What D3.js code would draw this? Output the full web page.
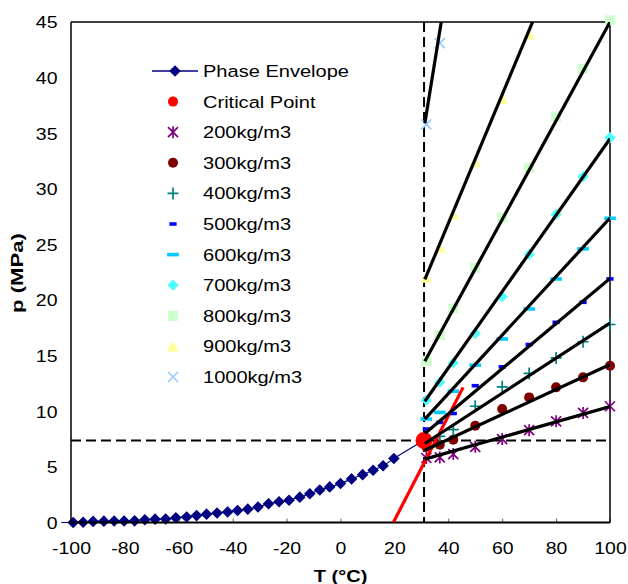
<!DOCTYPE html>
<html>
<head>
<meta charset="utf-8">
<script src="https://cdn.jsdelivr.net/npm/d3@7"></script>
<style>
  html, body { margin: 0; padding: 0; background: #fff; }
  svg { display: block; }
  text { font-family: "Liberation Sans", Arial, sans-serif; fill: #000; }
</style>
</head>
<body>
<div id="chart"></div>
<script>
// ---------------- DATA ----------------
const xTicks = [-100, -80, -60, -40, -20, 0, 20, 40, 60, 80, 100];
const yTicks = [0, 5, 10, 15, 20, 25, 30, 35, 40, 45];

// Phase envelope (saturation / sublimation curve)
const envT = [-103.6, -99.2, -95.5, -91.8, -87.8, -84.0, -80.3, -76.4, -72.6, -68.8, -64.9, -61.1, -57.1, -53.4, -49.7, -45.8, -41.9, -38.2, -34.4, -30.6, -26.7, -22.8, -19.1, -15.1, -11.4, -7.7, -4.0, 0.0, 4.1, 8.2, 12.1, 15.8, 19.8];
const envP = [0, 0.0, 0.02, 0.1, 0.12, 0.13, 0.14, 0.15, 0.25, 0.3, 0.32, 0.42, 0.5, 0.62, 0.75, 0.85, 0.95, 1.08, 1.2, 1.4, 1.68, 1.86, 2.0, 2.28, 2.58, 2.92, 3.2, 3.5, 3.92, 4.3, 4.7, 5.1, 5.75];

// Critical point
const critT = 31.0;
const critP = 7.38;

// Isochore temperatures (°C)
const isoT = [31.85, 36.85, 41.85, 50, 60, 70, 80, 90, 100];
const seriesNames = ["200kg/m3", "300kg/m3", "400kg/m3", "500kg/m3", "600kg/m3", "700kg/m3", "800kg/m3", "900kg/m3", "1000kg/m3"];
const p200  = [5.8, 5.85, 6.15, 6.8, 7.5, 8.3, 9.1, 9.85, 10.45];
const p300  = [6.8, 7.0, 7.45, 8.7, 10.2, 11.25, 12.15, 13.05, 14.1];
const p400  = [7.5, 7.75, 8.35, 10.45, 12.2, 13.4, 14.8, 16.25, 17.8];
const p500  = [8.4, 9.0, 9.8, 12.3, 14.0, 16.0, 18.0, 19.8, 21.9];
const p600  = [9.3, 9.9, 11.8, 14.15, 16.5, 19.2, 21.9, 24.6, 27.35];
const p700  = [11.0, 12.6, 14.35, 17.0, 20.3, 24.1, 27.7, 31.1, 34.6];
const p800  = [14.55, 16.85, 19.25, 22.9, 27.4, 31.9, 36.5, 40.8, 45.15];
const p900  = [22.0, 24.7, 27.7, 32.4, 38.1, 43.9];
const p1000 = [35.8, 43.1];

// Straight isochore lines (model), from T = 31.3 to T = 100
const fitT = [31.3, 100];
const fitStartP = [5.7, 6.5, 7.1, 8.0, 9.3, 10.9, 14.5, 21.85, 35.9];
const fitEndP   = [10.42, 14.2, 17.93, 21.95, 27.38, 34.5, 45.0, 61.65, 138.8];

// Red line
const redT = [19.6, 45.5];
const redP = [0, 12.15];

// ---------------- STYLE ----------------
const styles = [
  { marker: "star",     color: "#800080" },
  { marker: "circle",   color: "#800000" },
  { marker: "plus",     color: "#008080" },
  { marker: "dashS",    color: "#0000ff" },
  { marker: "dashL",    color: "#00ccff" },
  { marker: "diamond",  color: "#4dffff" },
  { marker: "square",   color: "#ccffcc" },
  { marker: "triangle", color: "#ffff99" },
  { marker: "x",        color: "#99ccff" }
];
const pSeries = [p200, p300, p400, p500, p600, p700, p800, p900, p1000];

const W = 628, H = 584;
const SX = 1.18; // horizontal stretch of the original text
const pL = 71, pR = 610, pT = 22, pB = 522.5;

const x = d3.scaleLinear().domain([-100, 100]).range([pL, pR]);
const y = d3.scaleLinear().domain([0, 45]).range([pB, pT]);

const svg = d3.select("#chart").append("svg").attr("width", W).attr("height", H);

svg.append("defs").append("clipPath").attr("id", "plotclip")
  .append("rect").attr("x", pL).attr("y", pT).attr("width", pR - pL).attr("height", pB - pT);

function markerPath(type) {
  switch (type) {
    case "star": return "M-5,-5L5,5M-5,5L5,-5M0,-6V6";
    case "x": return "M-5,-5L5,5M-5,5L5,-5";
    case "plus": return "M-5.5,0H5.5M0,-6V6";
    case "diamond": return "M0,-5.6L5.6,0L0,5.6L-5.6,0Z";
    case "square": return "M-5,-5h10v10h-10Z";
    case "triangle": return "M0,-5.5L6,5H-6Z";
    case "dashS": return "M-3.6,-1.8h7.2v3.6h-7.2Z";
    case "dashL": return "M-5.8,-1.8h11.6v3.6h-11.6Z";
    case "circle": return d3.symbol(d3.symbolCircle, Math.PI * 5 * 5)();
    case "bigdiamond": return "M0,-5.8L5.8,0L0,5.8L-5.8,0Z";
  }
}
function drawMarker(g, type, color, cx, cy) {
  const stroked = (type === "star" || type === "x" || type === "plus");
  g.append("path")
    .attr("d", markerPath(type))
    .attr("transform", `translate(${cx},${cy})`)
    .attr("fill", stroked ? "none" : color)
    .attr("stroke", stroked ? color : "none")
    .attr("stroke-width", stroked ? 1.7 : 0);
}
function sText(g, tx, ty, str, opts = {}) {
  return g.append("text")
    .attr("transform", `translate(${tx},${ty}) scale(${SX},1)`)
    .attr("font-size", opts.size || 16.5)
    .attr("text-anchor", opts.anchor || "start")
    .attr("font-weight", opts.weight || "normal")
    .text(str);
}

// ---------------- AXES ----------------
const xAxis = d3.axisBottom(x).tickValues(xTicks).tickSize(-4).tickPadding(0).tickFormat(d => String(d));
const gx = svg.append("g").attr("transform", `translate(0,${pB})`).call(xAxis);
gx.select(".domain").remove();
gx.selectAll(".tick line").attr("stroke", "#666").attr("stroke-width", 1);
gx.selectAll(".tick text")
  .attr("font-size", 16.5).attr("font-family", "Liberation Sans, Arial, sans-serif")
  .attr("y", 32).attr("dy", null)
  .attr("transform", `scale(${SX},1)`);

const yAxis = d3.axisLeft(y).tickValues(yTicks).tickSize(0).tickFormat(d => String(d));
const gy = svg.append("g").attr("transform", `translate(${pL},0)`).call(yAxis);
gy.select(".domain").remove();
gy.selectAll(".tick text")
  .attr("font-size", 16.5).attr("font-family", "Liberation Sans, Arial, sans-serif")
  .attr("x", -13.5 / SX).attr("dy", "0.35em")
  .attr("transform", `scale(${SX},1)`);

// frame
svg.append("line").attr("x1", pL).attr("x2", pR).attr("y1", pT).attr("y2", pT).attr("stroke", "#000").attr("stroke-width", 1.5);
svg.append("line").attr("x1", pR).attr("x2", pR).attr("y1", pT).attr("y2", pB).attr("stroke", "#000").attr("stroke-width", 1.5);

// axis titles
sText(svg, (pL + pR) / 2, 582, "T (°C)", { size: 17, anchor: "middle", weight: "bold" });
svg.append("text")
  .attr("transform", `translate(22.5,273) rotate(-90) scale(1.3,1)`)
  .attr("font-size", 17).attr("font-weight", "bold").attr("text-anchor", "middle")
  .text("p (MPa)");

// ---------------- PLOT ----------------
const plot = svg.append("g");

// dashed critical lines
plot.append("line").attr("x1", x(critT)).attr("x2", x(critT)).attr("y1", pT).attr("y2", pB)
  .attr("stroke", "#000").attr("stroke-width", 2).attr("stroke-dasharray", "10,5");
plot.append("line").attr("x1", pL).attr("x2", pR).attr("y1", y(critP)).attr("y2", y(critP))
  .attr("stroke", "#000").attr("stroke-width", 2).attr("stroke-dasharray", "10,5");

// phase envelope line
const envPts = envT.map((t, i) => [t, envP[i]]).concat([[critT, critP]]);
plot.append("path")
  .attr("d", d3.line().x(d => x(d[0])).y(d => y(d[1])).curve(d3.curveMonotoneX)(envPts))
  .attr("fill", "none").attr("stroke", "#000080").attr("stroke-width", 1.2);
envT.forEach((t, i) => {
  if (t >= -100) drawMarker(plot, "bigdiamond", "#000080", x(t), y(envP[i]));
});

// isochore markers
pSeries.forEach((arr, si) => {
  arr.forEach((p, i) => drawMarker(plot, styles[si].marker, styles[si].color, x(isoT[i]), y(p)));
});

// axes lines (bottom/left)
svg.append("line").attr("x1", pL).attr("x2", pL).attr("y1", pT).attr("y2", pB).attr("stroke", "#000").attr("stroke-width", 1.5);
svg.append("line").attr("x1", pL).attr("x2", pR).attr("y1", pB).attr("y2", pB).attr("stroke", "#000").attr("stroke-width", 2);

// red line
const clipped = svg.append("g").attr("clip-path", "url(#plotclip)");
clipped.append("path")
  .attr("d", d3.line().x(d => x(d[0])).y(d => y(d[1]))(redT.map((t, i) => [t, redP[i]])))
  .attr("stroke", "#ff0000").attr("stroke-width", 3.2).attr("fill", "none");

// critical point
svg.append("circle").attr("cx", x(critT)).attr("cy", y(critP)).attr("r", 8.5).attr("fill", "#ff0000");

// black isochore lines
const clipped2 = svg.append("g").attr("clip-path", "url(#plotclip)");
fitStartP.forEach((p0, i) => {
  clipped2.append("path")
    .attr("d", d3.line().x(d => x(d[0])).y(d => y(d[1]))([[fitT[0], p0], [fitT[1], fitEndP[i]]]))
    .attr("stroke", "#000").attr("stroke-width", 3.2).attr("fill", "none");
});

// ---------------- LEGEND ----------------
const leg = svg.append("g");
const legNames = ["Phase Envelope", "Critical Point"].concat(seriesNames);
const legY0 = 71, legDY = 30.6, legMX = 173, legTX = 203;
legNames.forEach((name, i) => {
  const ly = legY0 + legDY * i;
  if (i === 0) {
    leg.append("line").attr("x1", 152).attr("x2", 198).attr("y1", ly).attr("y2", ly)
      .attr("stroke", "#000080").attr("stroke-width", 1.5);
    drawMarker(leg, "bigdiamond", "#000080", 175, ly);
  } else if (i === 1) {
    leg.append("circle").attr("cx", legMX).attr("cy", ly).attr("r", 5).attr("fill", "#ff0000");
  } else {
    const st = styles[i - 2];
    drawMarker(leg, st.marker, st.color, legMX, ly);
  }
  sText(leg, legTX, ly + 6, name, { size: 17 });
});
</script>
</body>
</html>
